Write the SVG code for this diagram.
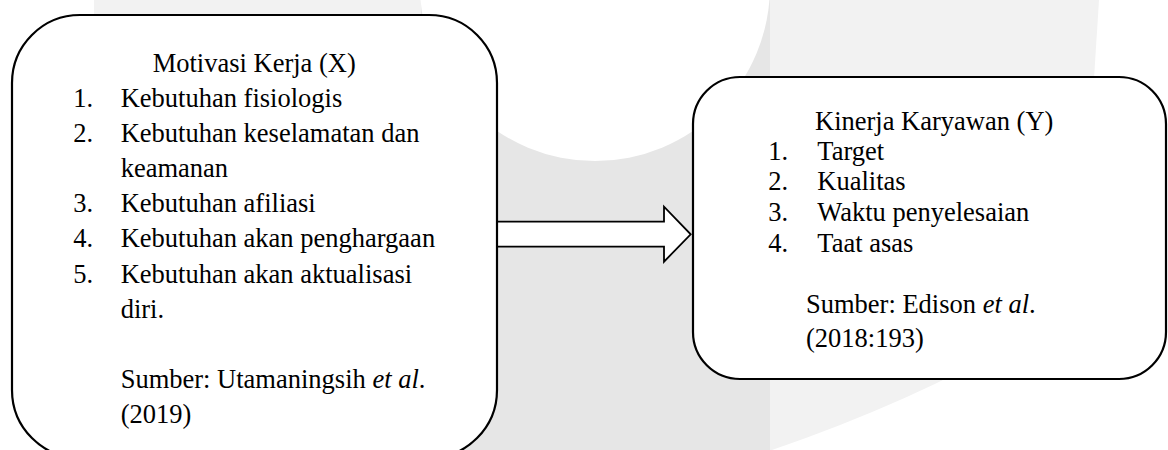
<svg xmlns="http://www.w3.org/2000/svg" width="1168" height="450" viewBox="0 0 1168 450">
<style>
.box{fill:#ffffff;stroke:#000000;stroke-width:2.2}
.t{font-family:"Liberation Serif","Times New Roman",serif;font-size:26.5px;fill:#000000}
.i{font-style:italic}
.arrow{fill:#ffffff;stroke:#000000;stroke-width:1.8;stroke-linejoin:miter}
</style>
<rect width="1168" height="450" fill="#ffffff"/>
<g id="watermark">
<rect x="94" y="0" width="330" height="40" fill="#f2f2f2"/>
<path d="M770,0 L1099,0 L1080,300 Q960,385 772,450 L770,450 Z" fill="#f2f2f2"/>
<rect x="421" y="0" width="349" height="450" fill="#e6e6e6"/>
<circle cx="595" cy="-14" r="175" fill="#ffffff"/>
</g>
<g id="connectors">
<path class="arrow" d="M497,221.7 L664,221.7 L664,206.7 L690.7,234.3 L664,261.7 L664,246.7 L497,246.7"/>
</g>
<g id="node-x">
<rect class="box" x="12" y="15" width="485" height="443" rx="68" ry="68"/>
<text class="t" x="152.7" y="71.7">Motivasi Kerja (X)</text>
<text class="t" x="73.3" y="106.7">1.</text><text class="t" x="120.7" y="106.7">Kebutuhan fisiologis</text>
<text class="t" x="73.3" y="142.3">2.</text><text class="t" x="120.7" y="142.3">Kebutuhan keselamatan dan</text>
<text class="t" x="120.7" y="177.3">keamanan</text>
<text class="t" x="73.3" y="212.3">3.</text><text class="t" x="120.7" y="212.3">Kebutuhan afiliasi</text>
<text class="t" x="73.3" y="247.3">4.</text><text class="t" x="120.7" y="247.3">Kebutuhan akan penghargaan</text>
<text class="t" x="73.3" y="283.3">5.</text><text class="t" x="120.7" y="283.3">Kebutuhan akan aktualisasi</text>
<text class="t" x="120.7" y="318.3">diri.</text>
<text class="t" x="120.7" y="388.3">Sumber: Utamaningsih <tspan class="i">et al</tspan>.</text>
<text class="t" x="120.7" y="423.3">(2019)</text>
</g>
<g id="node-y">
<rect class="box" x="693" y="77" width="473" height="302" rx="47" ry="47"/>
<text class="t" x="815" y="130">Kinerja Karyawan (Y)</text>
<text class="t" x="768.3" y="159.5">1.</text><text class="t" x="817.3" y="159.5">Target</text>
<text class="t" x="768.3" y="190">2.</text><text class="t" x="817.3" y="190">Kualitas</text>
<text class="t" x="768.3" y="221">3.</text><text class="t" x="817.3" y="221">Waktu penyelesaian</text>
<text class="t" x="768.3" y="251.5">4.</text><text class="t" x="817.3" y="251.5">Taat asas</text>
<text class="t" x="806" y="313.3">Sumber: Edison <tspan class="i">et al</tspan>.</text>
<text class="t" x="806" y="347.3">(2018:193)</text>
</g>
</svg>
